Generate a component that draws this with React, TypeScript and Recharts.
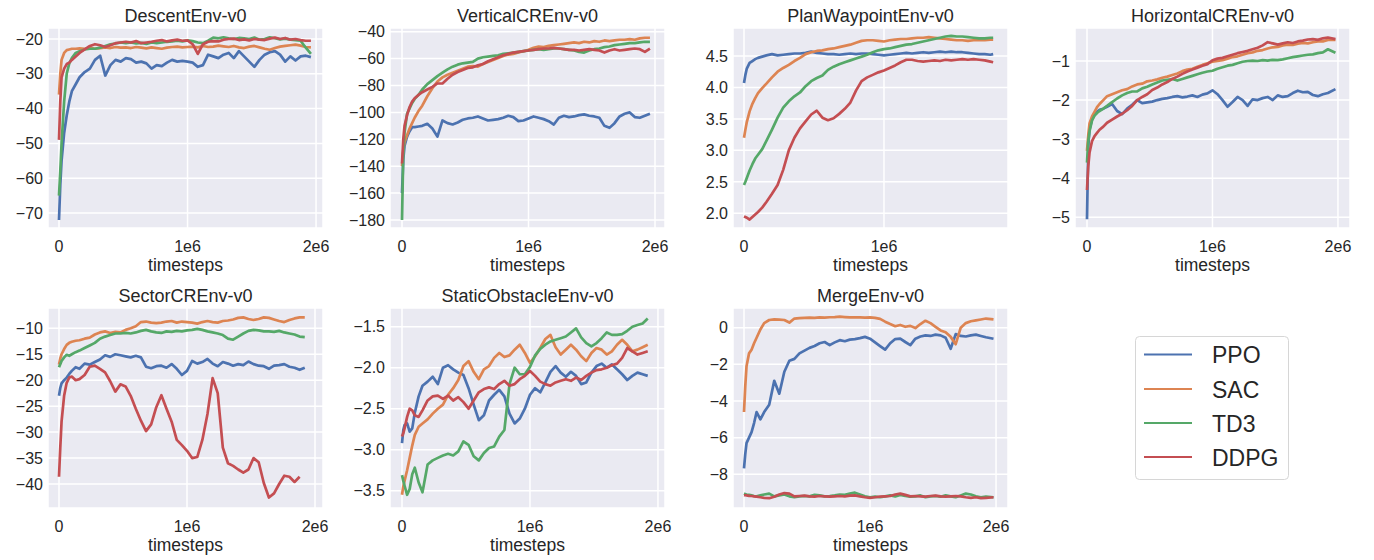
import React from "react";
import { LineChart, Line, XAxis, YAxis, CartesianGrid } from "recharts";

const FONT = '"Liberation Sans", Arial, sans-serif';
const TEXT = "#262626";
const ALGOS = ["PPO", "SAC", "TD3", "DDPG"];
const KEYS = ["ppo", "sac", "td3", "ddpg"];
const COLORS = ["#4C72B0", "#DD8452", "#55A868", "#C44E52"];

// timesteps (millions)
const GRID_A = [
  0, 0.01, 0.02, 0.04, 0.06, 0.08, 0.1, 0.13, 0.16, 0.2,
  0.24, 0.28, 0.32, 0.36, 0.4, 0.44, 0.48, 0.52, 0.56, 0.6,
  0.64, 0.68, 0.72, 0.76, 0.8, 0.84, 0.88, 0.92, 0.96, 1.0,
  1.04, 1.08, 1.12, 1.16, 1.2, 1.24, 1.28, 1.32, 1.36, 1.4,
  1.44, 1.48, 1.52, 1.56, 1.6, 1.64, 1.68, 1.72, 1.76, 1.8,
  1.84, 1.88, 1.92, 1.96,
];
const GRID_B = [...GRID_A.slice(0, 53), 1.98];
const GRID_C = [...GRID_A.slice(0, 49), 1.78];
const GRID_D = GRID_A.slice(0, 53);

// DescentEnv-v0
const descentPPO = [
  -72, -62, -55, -47, -42, -38, -35, -33, -31, -29.5,
  -28.5, -26, -24.8, -30.5, -27.5, -26, -26.5, -25.5, -25.8, -26.8,
  -26.5, -27, -28.5, -27.5, -27.8, -26.8, -26, -26.5, -26.3, -26.5,
  -26.8, -28, -27.5, -24.5, -25, -25.5, -24.5, -24, -25.5, -23.5,
  -25, -26.5, -28, -26, -24.5, -23.8, -23.5, -24.5, -26.5, -25,
  -26.2, -25, -24.8, -25.2,
];
const descentSAC = [
  -36, -30, -26, -24, -23.2, -23, -22.8, -22.8, -22.7, -22.8,
  -22.5, -22.8, -22.6, -22.4, -22.6, -22.3, -22.5, -22.4, -22.6, -22.3,
  -22.5, -22.7, -22.4, -22.6, -22.8, -22.5, -22.3, -22.2, -22.4, -22.3,
  -22.2, -22.4, -22.0, -22.3, -22.2, -21.9, -22.1, -22.3, -22.0, -22.4,
  -22.6, -22.2, -22.0, -22.4, -22.8, -23.1, -22.6, -22.2, -22.0, -21.8,
  -21.6, -21.9, -22.3, -22.4,
];
const descentTD3 = [
  -65, -58, -50, -38, -30, -27, -25.5, -24, -23.5, -23,
  -22.8, -22.8, -22.5, -22, -21.5, -21.3, -21, -21.2, -21, -21.3,
  -21.1, -21.4, -21.0, -21.2, -21.0, -20.8, -20.7, -20.5, -20.7, -20.4,
  -20.6, -21.0, -21.2, -20.5, -19.6, -19.8, -19.5, -19.8, -20.0, -19.7,
  -19.8, -20.0, -19.6, -20.2, -20.0, -19.5, -19.8, -20.1, -19.9, -20.2,
  -20.3, -20.5, -22.5, -24.3,
];
const descentDDPG = [
  -49, -38, -31, -28.5, -27.2, -26.8, -26, -25, -24, -23,
  -22, -21.5, -21.8, -22.3, -21.8, -21.2, -21.0, -20.8, -21.0, -20.6,
  -21.2, -21.0, -20.8, -20.5, -20.3, -20.7, -20.4, -20.2, -20.5, -20.4,
  -21.5, -24.3, -21.5, -20.8, -20.6, -20.7, -20.2, -20.0, -19.9, -20.3,
  -20.1, -20.4, -20.0, -20.2, -20.3, -19.9, -19.6, -20.0, -19.7, -20.2,
  -20.0, -20.3, -20.5, -20.5,
];

// VerticalCREnv-v0
const verticalPPO = [
  -160, -135, -125, -118, -114, -111, -111, -110.5, -110, -108.5,
  -112, -118, -106, -108, -109, -107.5, -105.5, -104.5, -104, -103,
  -104.5, -106, -105.5, -105, -104, -102.5, -103.5, -106.5, -106, -104.5,
  -103, -104, -105, -106.5, -109, -104, -102.5, -103.5, -103, -102,
  -101.5, -102.5, -103, -104, -110, -111.5, -108, -103, -101, -100,
  -103.5, -104, -102.5, -101,
];
const verticalSAC = [
  -140, -128, -122, -117, -112, -108, -104, -99, -95, -88,
  -82, -77, -74, -72, -70.5, -69, -67.5, -66, -65.5, -66,
  -64, -62.5, -61, -59.5, -58, -57, -56.5, -55.5, -54.5, -53.5,
  -52, -51, -51.5, -50.5, -50, -49.5, -49, -48.5, -48, -48.5,
  -47.5, -48, -47, -47.5, -46.5, -47, -46.5, -46, -46, -45.5,
  -46, -45, -44.5, -44.5,
];
const verticalTD3 = [
  -180, -130, -115, -101, -97, -93, -90, -87, -83, -79,
  -76, -73, -70.5, -68, -66, -64.5, -63.5, -63, -62.5, -60,
  -59, -58.5, -58, -57.5, -56.5, -56, -55.5, -55, -54.5, -54,
  -53.5, -53, -53.5, -53, -52.5, -52.5, -53, -53.5, -54, -55,
  -55.5, -54, -53, -52.5, -51.5, -51, -50, -49.5, -49, -48.5,
  -48.5, -48, -47.5, -47.5,
];
const verticalDDPG = [
  -138, -120, -110, -102, -96, -92, -89.5, -87, -85, -83,
  -81, -78.5, -78.5, -75, -72, -70, -68.5, -67, -66.5, -65,
  -64, -62, -60.5, -59, -57.5, -56.5, -55.5, -55, -54.5, -54,
  -53.5, -53, -52.5, -52.5, -52, -52.5, -53, -53.5, -53.5, -54,
  -53.5, -53, -53.5, -54, -55.5, -54, -53, -54, -53.5, -53,
  -52.5, -53, -55, -52.5,
];

// PlanWaypointEnv-v0
const planPPO = [
  4.07, 4.2, 4.3, 4.39, 4.42, 4.45, 4.47, 4.49, 4.51, 4.53,
  4.51, 4.52, 4.53, 4.54, 4.54, 4.55, 4.57, 4.55, 4.54, 4.53,
  4.53, 4.52, 4.53, 4.54, 4.53, 4.54, 4.54, 4.53, 4.52, 4.51,
  4.52, 4.53, 4.54, 4.55, 4.54, 4.55, 4.56, 4.55, 4.56, 4.57,
  4.56, 4.57, 4.56, 4.56, 4.55, 4.54, 4.53, 4.53, 4.52, 4.53,
];
const planSAC = [
  3.2, 3.33, 3.45, 3.62, 3.74, 3.83, 3.91, 3.99, 4.06, 4.16,
  4.25, 4.31, 4.36, 4.42, 4.47, 4.53, 4.56, 4.58, 4.59, 4.61,
  4.62, 4.64, 4.66, 4.68, 4.71, 4.74, 4.75, 4.75, 4.74, 4.73,
  4.75, 4.76, 4.77, 4.77, 4.78, 4.79, 4.79, 4.8, 4.79, 4.78,
  4.77, 4.76, 4.75, 4.75, 4.74, 4.75, 4.75, 4.75, 4.76, 4.76,
];
const planTD3 = [
  2.45, 2.5, 2.56, 2.68, 2.78, 2.87, 2.93, 3.02, 3.15, 3.33,
  3.52, 3.68, 3.78, 3.86, 3.92, 4.02, 4.1, 4.15, 4.19, 4.28,
  4.33, 4.37, 4.4, 4.43, 4.46, 4.49, 4.52, 4.56, 4.59, 4.61,
  4.62, 4.64, 4.66, 4.68, 4.69, 4.71, 4.73, 4.75, 4.77, 4.79,
  4.81, 4.82, 4.81, 4.81, 4.8, 4.79, 4.78, 4.78, 4.79, 4.79,
];
const planDDPG = [
  1.95, 1.94, 1.93, 1.9, 1.94, 1.98, 2.02, 2.09, 2.18, 2.31,
  2.45, 2.69, 3.0, 3.2, 3.35, 3.46, 3.57, 3.63, 3.52, 3.48,
  3.51, 3.58, 3.66, 3.76, 3.95, 4.1, 4.16, 4.2, 4.24, 4.27,
  4.31, 4.35, 4.4, 4.44, 4.44, 4.42, 4.41, 4.42, 4.43, 4.42,
  4.44, 4.43, 4.44, 4.45, 4.44, 4.45, 4.44, 4.43, 4.41, 4.4,
];

// HorizontalCREnv-v0
const horizontalPPO = [
  -5.05, -3.2, -2.75, -2.5, -2.38, -2.3, -2.25, -2.22, -2.17, -2.1,
  -2.28, -2.36, -2.22, -2.12, -2.0, -2.08, -2.06, -2.04, -2.0, -1.97,
  -1.95, -1.92, -1.9, -1.93, -1.91, -1.88, -1.92, -1.86, -1.83, -1.75,
  -1.85, -2.0, -2.17, -2.05, -1.92, -2.0, -2.15, -1.98, -2.0, -1.95,
  -1.92, -2.0, -1.88, -1.92, -1.9, -1.82, -1.76, -1.8, -1.79, -1.87,
  -1.9, -1.85, -1.82, -1.72,
];
const horizontalSAC = [
  -3.3, -2.9, -2.6, -2.42, -2.3, -2.18, -2.1, -2.0, -1.9, -1.85,
  -1.8, -1.75, -1.72, -1.65, -1.6, -1.58, -1.52, -1.5, -1.47, -1.43,
  -1.4, -1.36, -1.32, -1.26, -1.22, -1.2, -1.15, -1.1, -1.06, -1.02,
  -1.0, -0.98, -0.94, -0.9, -0.88, -0.84, -0.8, -0.78, -0.74, -0.72,
  -0.68, -0.65, -0.64, -0.6, -0.58, -0.59, -0.56, -0.54, -0.55, -0.52,
  -0.5, -0.5, -0.46, -0.46,
];
const horizontalTD3 = [
  -3.6, -3.05, -2.8, -2.52, -2.4, -2.33, -2.28, -2.22, -2.15, -2.05,
  -1.96, -1.88, -1.82, -1.78, -1.78, -1.7, -1.66, -1.6, -1.55, -1.5,
  -1.48, -1.46, -1.5, -1.46, -1.42, -1.38, -1.34, -1.3, -1.27, -1.25,
  -1.2, -1.16, -1.12, -1.1, -1.06, -1.02, -1.0, -0.99, -1.0, -0.98,
  -0.99, -0.97, -0.98, -0.96, -0.93, -0.9, -0.88, -0.86, -0.84, -0.83,
  -0.8, -0.78, -0.7, -0.79,
];
const horizontalDDPG = [
  -4.3, -3.7, -3.35, -3.05, -2.92, -2.84, -2.76, -2.68, -2.58, -2.5,
  -2.42, -2.35, -2.26, -2.15, -2.0, -1.92, -1.85, -1.74, -1.68, -1.6,
  -1.54, -1.46, -1.4, -1.33, -1.27, -1.22, -1.17, -1.12, -1.08, -0.98,
  -0.94, -0.92, -0.88, -0.84, -0.8, -0.77, -0.74, -0.7, -0.66, -0.6,
  -0.52, -0.55, -0.58, -0.55, -0.52, -0.54, -0.5, -0.48, -0.45, -0.44,
  -0.46, -0.42, -0.4, -0.44,
];

// SectorCREnv-v0
const sectorPPO = [
  -23, -21.5, -20.6, -20.0, -19.5, -18.8, -18.2, -17.5, -17.8, -16.8,
  -17.0, -16.5, -16.0, -15.2, -15.5, -15.0, -15.2, -15.4, -15.6, -15.3,
  -15.6, -17.4, -17.7, -17.3, -17.2, -17.6, -16.9, -17.8, -19.0, -18.2,
  -16.3, -16.8, -16.5, -15.9, -16.8, -17.3, -16.5, -16.8, -17.2, -16.9,
  -17.1, -16.4, -16.9, -17.2, -17.3, -17.8, -17.2, -17.1, -16.9, -17.4,
  -17.6, -18.0, -17.6,
];
const sectorSAC = [
  -17.0, -15.8, -15.0, -14.0, -13.2, -12.8, -12.6, -12.4, -12.3, -12.0,
  -11.8, -11.2, -10.8, -10.6, -10.9, -10.7, -10.8, -10.3, -10.0, -9.6,
  -8.8, -8.7, -8.9, -9.0, -8.9, -8.7, -8.6, -8.9, -8.7, -8.8,
  -8.9, -9.1, -8.8, -8.6, -8.8, -8.9, -8.6, -8.5, -8.3, -8.0,
  -7.9, -8.2, -8.4, -8.2, -7.9, -8.0, -8.3, -8.6, -8.8, -8.4,
  -8.1, -7.9, -7.9,
];
const sectorTD3 = [
  -17.5, -16.9, -16.3, -15.6, -15.1, -15.3, -15.0, -14.6, -14.3, -13.8,
  -13.3, -12.8, -12.0, -11.6, -11.3, -11.0, -11.0, -10.9, -11.0, -10.8,
  -10.5, -10.3, -10.6, -10.8, -10.9, -10.6, -10.7, -10.5, -10.6, -10.4,
  -10.3, -10.1, -10.3, -10.6, -10.8, -11.0, -11.3, -12.0, -12.2, -11.6,
  -11.0, -10.5, -10.3, -10.4, -10.6, -10.6, -10.7, -10.5, -10.8, -11.0,
  -11.2, -11.6, -11.7,
];
const sectorDDPG = [
  -38.6, -33, -28, -23, -20.5, -19.5, -19.3, -20.0, -19.8, -19.0,
  -17.4, -17.2, -17.8, -18.5, -20.2, -22.2, -20.8, -21.2, -23.0, -25.5,
  -27.8, -29.8, -28.5, -25.2, -22.9, -25.5, -28.0, -31.5, -32.5, -33.6,
  -35.0, -34.8, -31.5, -26.5, -19.6, -22.5, -33.0, -36.0, -36.5, -37.2,
  -37.8, -37.2, -35.0, -35.8, -39.8, -42.6, -41.8, -40.0, -38.4, -38.6,
  -39.6, -38.6,
];

// StaticObstacleEnv-v0
const staticPPO = [
  -2.92, -2.76, -2.7, -2.68, -2.78, -2.74, -2.55, -2.35, -2.22, -2.17,
  -2.11, -2.2, -2.0, -1.97, -2.02, -2.06, -2.09, -2.25, -2.45, -2.64,
  -2.58, -2.4, -2.33, -2.27, -2.35, -2.56, -2.68, -2.62, -2.5, -2.33,
  -2.25, -2.3, -2.18, -2.05, -1.98, -2.06, -2.11, -2.05, -2.1, -2.2,
  -2.18, -2.06, -1.98, -1.95, -2.0, -1.96, -2.02, -2.08, -2.15, -2.1,
  -2.06, -2.08, -2.1,
];
const staticSAC = [
  -3.55, -3.45, -3.38, -3.25, -3.1, -2.95, -2.82, -2.72, -2.68, -2.63,
  -2.56, -2.5, -2.45, -2.33, -2.25, -2.15, -1.98, -1.92, -2.05, -2.14,
  -2.02, -1.98, -1.88, -1.82, -1.87, -1.85, -1.78, -1.72, -1.82, -1.94,
  -1.86, -1.76, -1.65, -1.6, -1.75, -1.84, -1.78, -1.72, -1.78, -1.86,
  -1.92, -1.82, -1.76, -1.78, -1.84, -1.8, -1.72, -1.66, -1.72, -1.8,
  -1.78, -1.75, -1.72,
];
const staticTD3 = [
  -3.31, -3.38, -3.44, -3.55, -3.48, -3.3, -3.22, -3.4, -3.52, -3.18,
  -3.13, -3.1, -3.07, -3.05, -3.07, -3.02, -2.9, -2.94, -3.08, -3.13,
  -3.04, -2.98, -2.96, -2.84, -2.76, -2.2, -2.0, -2.08, -2.08, -1.99,
  -1.85, -1.77, -1.72, -1.68, -1.66, -1.64, -1.62, -1.57, -1.52, -1.63,
  -1.7, -1.74, -1.7, -1.64, -1.57, -1.6, -1.6, -1.59, -1.55, -1.5,
  -1.48, -1.46, -1.4,
];
const staticDDPG = [
  -2.84, -2.8, -2.74, -2.6, -2.5, -2.52, -2.58, -2.6, -2.52, -2.4,
  -2.35, -2.34, -2.38, -2.34, -2.4, -2.36, -2.42, -2.5, -2.4, -2.3,
  -2.26, -2.24, -2.26, -2.2, -2.16, -2.22, -2.2, -2.14, -2.1, -2.04,
  -2.1, -2.17, -2.2, -2.22, -2.18, -2.16, -2.14, -2.16, -2.12, -2.15,
  -2.1, -2.06, -2.03, -2.02, -2.0, -1.97, -1.95, -1.88, -1.76, -1.8,
  -1.84, -1.82, -1.8,
];

// MergeEnv-v0
const mergePPO = [
  -7.67, -6.9, -6.3, -6.0, -5.7, -5.2, -4.6, -5.0, -4.6, -4.2,
  -2.9, -3.6, -2.4, -1.8, -1.7, -1.4, -1.25, -1.1, -1.0, -0.85,
  -0.78, -0.95, -0.8, -0.68, -0.74, -0.65, -0.62, -0.57, -0.5, -0.6,
  -0.8, -1.0, -1.2, -0.85, -0.62, -0.6, -0.78, -0.95, -0.6, -0.48,
  -0.42, -0.45, -0.38, -0.42, -0.55, -1.15, -0.35, -0.45, -0.48, -0.42,
  -0.38, -0.45, -0.52, -0.6,
];
const mergeSAC = [
  -4.6, -3.2, -2.1, -1.4, -1.2, -0.85, -0.55, -0.1, 0.25, 0.42,
  0.45, 0.44, 0.42, 0.28, 0.5, 0.52, 0.54, 0.55, 0.54, 0.56,
  0.55, 0.57, 0.58, 0.6, 0.58, 0.56, 0.57, 0.56, 0.55, 0.56,
  0.54, 0.48, 0.33, 0.2, 0.08, 0.15, 0.05, 0.1, -0.02, 0.2,
  0.38, 0.25, 0.05, -0.15, -0.25, -0.5, -0.9, 0.0, 0.25, 0.35,
  0.4, 0.45, 0.5, 0.45,
];
const mergeTD3 = [
  -9.05, -9.08, -9.1, -9.12, -9.15, -9.18, -9.2, -9.15, -9.1, -9.05,
  -9.2, -9.15, -9.1, -9.2, -9.25, -9.2, -9.18, -9.2, -9.12, -9.15,
  -9.2, -9.18, -9.15, -9.1, -9.12, -9.05, -9.0, -9.1, -9.2, -9.25,
  -9.22, -9.25, -9.2, -9.15, -9.2, -9.12, -9.18, -9.22, -9.2, -9.15,
  -9.25, -9.2, -9.18, -9.22, -9.15, -9.2, -9.25, -9.15, -9.05, -9.1,
  -9.2, -9.25, -9.22, -9.25,
];
const mergeDDPG = [
  -9.13, -9.14, -9.15, -9.17, -9.18, -9.2, -9.22, -9.25, -9.28, -9.3,
  -9.22, -9.1, -9.02, -9.05, -9.2, -9.18, -9.16, -9.2, -9.22, -9.18,
  -9.2, -9.22, -9.2, -9.18, -9.2, -9.16, -9.15, -9.2, -9.25, -9.28,
  -9.25, -9.22, -9.2, -9.18, -9.1, -9.05, -9.12, -9.2, -9.18, -9.2,
  -9.22, -9.18, -9.16, -9.2, -9.22, -9.2, -9.18, -9.2, -9.25, -9.28,
  -9.25, -9.3, -9.28, -9.25,
];

const X_TICKS = [0, 1e6, 2e6];

const ENVS = [
  { title: "DescentEnv-v0", grid: GRID_A, series: [descentPPO, descentSAC, descentTD3, descentDDPG],
    xDomain: [-0.0856e6, 2.054e6], yDomain: [-74.31, -16.84], yTicks: [-70, -60, -50, -40, -30, -20], xTicks: X_TICKS, dec: 0 },
  { title: "VerticalCREnv-v0", grid: GRID_A, series: [verticalPPO, verticalSAC, verticalTD3, verticalDDPG],
    xDomain: [-0.0949e6, 2.079e6], yDomain: [-185.95, -37.25], yTicks: [-180, -160, -140, -120, -100, -80, -60, -40], xTicks: X_TICKS, dec: 0 },
  { title: "PlanWaypointEnv-v0", grid: GRID_C, series: [planPPO, planSAC, planTD3, planDDPG],
    xDomain: [-0.0786e6, 1.886e6], yDomain: [1.766, 4.945], yTicks: [2.0, 2.5, 3.0, 3.5, 4.0, 4.5], xTicks: [0, 1e6], dec: 1 },
  { title: "HorizontalCREnv-v0", grid: GRID_B, series: [horizontalPPO, horizontalSAC, horizontalTD3, horizontalDDPG],
    xDomain: [-0.0956e6, 2.096e6], yDomain: [-5.273, -0.156], yTicks: [-5, -4, -3, -2, -1], xTicks: X_TICKS, dec: 0 },
  { title: "SectorCREnv-v0", grid: GRID_D, series: [sectorPPO, sectorSAC, sectorTD3, sectorDDPG],
    xDomain: [-0.0859e6, 2.0625e6], yDomain: [-44.62, -6.09], yTicks: [-40, -35, -30, -25, -20, -15, -10], xTicks: X_TICKS, dec: 0 },
  { title: "StaticObstacleEnv-v0", grid: GRID_D, series: [staticPPO, staticSAC, staticTD3, staticDDPG],
    xDomain: [-0.0938e6, 2.055e6], yDomain: [-3.711, -1.272], yTicks: [-3.5, -3.0, -2.5, -2.0, -1.5], xTicks: X_TICKS, dec: 1 },
  { title: "MergeEnv-v0", grid: GRID_B, series: [mergePPO, mergeSAC, mergeTD3, mergeDDPG],
    xDomain: [-0.0873e6, 2.095e6], yDomain: [-9.836, 1.075], yTicks: [-8, -6, -4, -2, 0], xTicks: X_TICKS, dec: 0 },
];

// layout
const PW = 275;
const PH = 200;
const YW = 60;
const XH = 34;
const MT = 12;
const MR = 24;
const LEFTS = [48, 390, 733, 1075, 48, 390, 733];
const TOPS = [28, 28, 28, 28, 308, 308, 308];

const fmtY = (dec: number) => (v: number) => {
  const s = Math.abs(v).toFixed(dec);
  return v < 0 ? "\u2212" + s : s;
};
const fmtX = (v: number) => (v === 0 ? "0" : `${Math.round(v / 1e6)}e6`);

function Panel({ env, left, top }: any) {
  const rows = env.grid.map((t: number, i: number) => {
    const r: any = { x: t * 1e6 };
    KEYS.forEach((k, j) => {
      r[k] = env.series[j][i];
    });
    return r;
  });
  const tickStyle = { fontSize: 16, fill: TEXT, fontFamily: FONT };
  return (
    <div style={{ position: "absolute", left: left - YW, top: top - MT }}>
      <LineChart width={YW + PW + MR} height={MT + PH + XH} data={rows} margin={{ top: MT, right: MR, bottom: 0, left: 0 }}>
        <CartesianGrid fill="#EAEAF2" fillOpacity={1} stroke="#FFFFFF" strokeWidth={1.5} />
        <XAxis
          dataKey="x"
          type="number"
          domain={env.xDomain}
          allowDataOverflow
          ticks={env.xTicks}
          interval={0}
          tickFormatter={fmtX}
          axisLine={false}
          tickLine={false}
          tickSize={0}
          tickMargin={13}
          height={XH}
          tick={tickStyle}
        />
        <YAxis
          type="number"
          domain={env.yDomain}
          allowDataOverflow
          ticks={env.yTicks}
          interval={0}
          tickFormatter={fmtY(env.dec)}
          axisLine={false}
          tickLine={false}
          tickSize={0}
          tickMargin={5}
          width={YW}
          tick={tickStyle}
        />
        {KEYS.map((k, j) => (
          <Line
            key={k}
            dataKey={k}
            type="linear"
            stroke={COLORS[j]}
            strokeWidth={2.7}
            strokeLinejoin="round"
            dot={false}
            activeDot={false}
            isAnimationActive={false}
          />
        ))}
      </LineChart>
    </div>
  );
}

export default function App() {
  const legendY = [354.5, 389, 423, 457];
  return (
    <div style={{ position: "absolute", left: 0, top: 0, width: 1374, height: 560, background: "#FFFFFF", fontFamily: FONT }}>
      {ENVS.map((env, i) => (
        <Panel key={env.title} env={env} left={LEFTS[i]} top={TOPS[i]} />
      ))}
      <svg width={1374} height={560} style={{ position: "absolute", left: 0, top: 0, pointerEvents: "none" }}>
        {ENVS.map((env, i) => (
          <g key={env.title}>
            <text x={LEFTS[i] + PW / 2} y={TOPS[i] - 6.5} textAnchor="middle" fontSize={18} fill={TEXT} fontFamily={FONT}>
              {env.title}
            </text>
            <text x={LEFTS[i] + PW / 2} y={TOPS[i] + 243} textAnchor="middle" fontSize={17.5} fill={TEXT} fontFamily={FONT}>
              timesteps
            </text>
          </g>
        ))}
        <rect x={1135.5} y={336.5} width={153} height={143} rx={4} fill="#FFFFFF" stroke="#D6D6D6" strokeWidth={1} />
        {ALGOS.map((a, j) => (
          <g key={a}>
            <line x1={1144} x2={1192} y1={legendY[j]} y2={legendY[j]} stroke={COLORS[j]} strokeWidth={1.8} />
            <text x={1212} y={legendY[j] + 8.8} fontSize={23} fill={TEXT} fontFamily={FONT}>
              {a}
            </text>
          </g>
        ))}
      </svg>
    </div>
  );
}
